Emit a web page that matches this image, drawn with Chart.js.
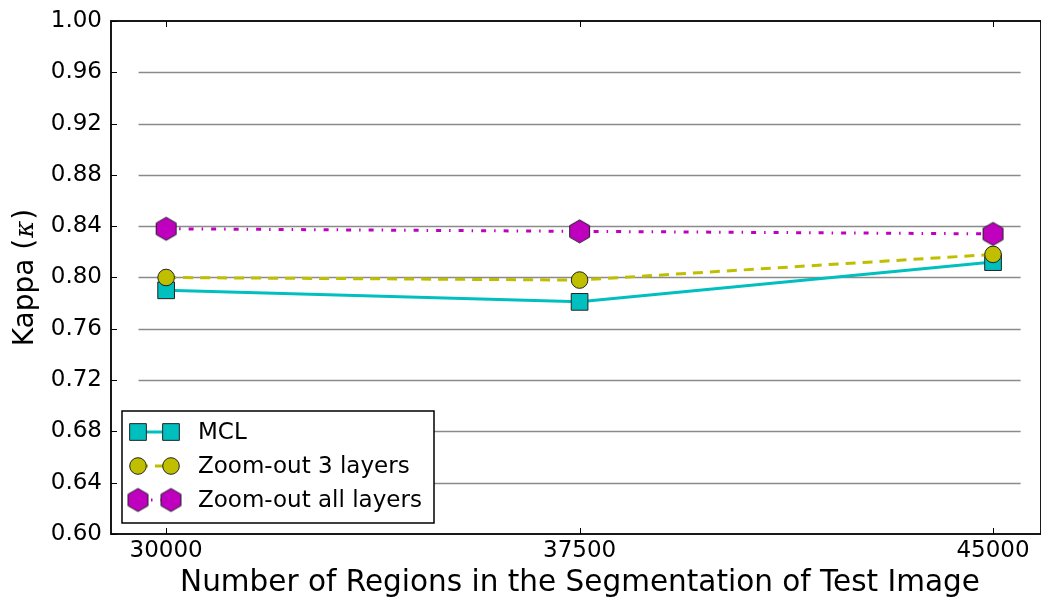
<!DOCTYPE html>
<html>
<head>
<meta charset="utf-8">
<script src="https://cdn.jsdelivr.net/npm/chart.js@4.4.1/dist/chart.umd.min.js"></script>
<style>
  html, body { margin: 0; padding: 0; background: #fff; overflow: hidden; }
  canvas { display: block; }
</style>
</head>
<body>
<canvas id="kappaChart" width="1041" height="603"></canvas>
<script>
const regions = [30000, 37500, 45000];
const mclValues = [0.790, 0.781, 0.812];
const zoom3Values = [0.800, 0.798, 0.818];
const zoomAllValues = [0.838, 0.836, 0.834];
const yTicks = [0.60, 0.64, 0.68, 0.72, 0.76, 0.80, 0.84, 0.88, 0.92, 0.96, 1.00];
const seriesNames = ["MCL", "Zoom-out 3 layers", "Zoom-out all layers"];

const colors = {
  cyan: "#00BFBF",
  olive: "#BFBF00",
  magenta: "#BF00BF",
  grid: "#8a8a8a",
};
const FONT = "'DejaVu Sans', sans-serif";

// hexagon marker drawn on a small canvas, used as pointStyle
function makeHexagon(r, fill) {
  const c = document.createElement("canvas");
  const s = Math.ceil(r * 2 + 4);
  c.width = s;
  c.height = s;
  const g = c.getContext("2d");
  g.beginPath();
  for (let k = 0; k < 6; k++) {
    const a = -Math.PI / 2 + (k * Math.PI) / 3;
    const px = s / 2 + r * Math.cos(a);
    const py = s / 2 + r * Math.sin(a);
    if (k === 0) g.moveTo(px, py);
    else g.lineTo(px, py);
  }
  g.closePath();
  g.fillStyle = fill;
  g.fill();
  g.lineWidth = 1;
  g.strokeStyle = "#222";
  g.stroke();
  return c;
}
const hexMarker = makeHexagon(11.5, colors.magenta);

const toXY = (vals) => regions.map((x, i) => ({ x: x, y: vals[i] }));

const frameAndGrid = {
  id: "frameAndGrid",
  beforeDatasetsDraw(chart) {
    const { ctx, scales } = chart;
    const x = scales.x, y = scales.y;
    ctx.save();
    ctx.strokeStyle = colors.grid;
    ctx.lineWidth = 1.6;
    yTicks.slice(1, -1).forEach((v) => {
      const py = Math.round(y.getPixelForValue(v)) + 0.5;
      ctx.beginPath();
      ctx.moveTo(x.getPixelForValue(29500), py);
      ctx.lineTo(x.getPixelForValue(45500), py);
      ctx.stroke();
    });
    ctx.restore();
  },
  afterDraw(chart) {
    const { ctx, chartArea, scales } = chart;
    const x = scales.x, y = scales.y;
    ctx.save();
    // inward ticks
    ctx.strokeStyle = "#000";
    ctx.lineWidth = 1;
    yTicks.forEach((v) => {
      const py = Math.round(y.getPixelForValue(v)) + 0.5;
      ctx.beginPath();
      ctx.moveTo(chartArea.left, py);
      ctx.lineTo(chartArea.left + 6, py);
      ctx.stroke();
    });
    regions.forEach((v) => {
      const px = Math.round(x.getPixelForValue(v)) + 0.5;
      ctx.beginPath();
      ctx.moveTo(px, chartArea.top);
      ctx.lineTo(px, chartArea.top + 6);
      ctx.moveTo(px, chartArea.bottom);
      ctx.lineTo(px, chartArea.bottom - 6);
      ctx.stroke();
    });
    // frame
    ctx.lineWidth = 1.8;
    ctx.strokeRect(chartArea.left, chartArea.top, chartArea.right - chartArea.left, chartArea.bottom - chartArea.top);

    // y title with italic kappa
    ctx.fillStyle = "#000";
    ctx.translate(33, (chartArea.top + chartArea.bottom) / 2);
    ctx.rotate(-Math.PI / 2);
    ctx.textBaseline = "alphabetic";
    const f1 = "28px " + FONT;
    const f2 = "italic 26px 'DejaVu Serif', serif";
    ctx.font = f1;
    const a = "Kappa (", c = ")";
    const wa = ctx.measureText(a).width, wc = ctx.measureText(c).width;
    ctx.font = f2;
    const wb = ctx.measureText("κ").width + 2;
    let sx = -(wa + wb + wc) / 2;
    ctx.font = f1;
    ctx.textAlign = "left";
    ctx.fillText(a, sx, 0);
    ctx.font = f2;
    ctx.fillText("κ", sx + wa + 1, 0);
    ctx.font = f1;
    ctx.fillText(c, sx + wa + wb, 0);
    ctx.restore();

    // x title
    ctx.save();
    ctx.fillStyle = "#000";
    ctx.font = "29.5px " + FONT;
    ctx.textAlign = "center";
    ctx.textBaseline = "middle";
    ctx.fillText("Number of Regions in the Segmentation of Test Image", 580, 583);
    ctx.restore();

    // legend
    ctx.save();
    const lx = 122, ly = 411, lw = 312, lh = 112;
    ctx.fillStyle = "#fff";
    ctx.fillRect(lx, ly, lw, lh);
    ctx.strokeStyle = "#000";
    ctx.lineWidth = 1.5;
    ctx.strokeRect(lx, ly, lw, lh);
    const ds = chart.data.datasets;
    const rowsY = [432, 466, 500];
    ds.forEach((d, i) => {
      const yy = rowsY[i];
      const m1 = 138, m2 = 171;
      ctx.strokeStyle = d.borderColor;
      ctx.lineWidth = d.borderWidth;
      ctx.setLineDash(d.borderDash || []);
      ctx.beginPath();
      ctx.moveTo(m1, yy);
      ctx.lineTo(m2, yy);
      ctx.stroke();
      ctx.setLineDash([]);
      [m1, m2].forEach((mx) => {
        if (typeof d.pointStyle !== "string") {
          Chart.helpers.drawPoint(ctx, { pointStyle: d.pointStyle, radius: d.pointRadius }, mx, yy);
          return;
        }
        ctx.fillStyle = d.backgroundColor;
        ctx.strokeStyle = "#222";
        ctx.lineWidth = 1;
        ctx.beginPath();
        if (d.pointStyle === "rect") {
          const h = d.pointRadius * Math.SQRT1_2;
          ctx.rect(mx - h, yy - h, 2 * h, 2 * h);
        } else {
          ctx.arc(mx, yy, d.pointRadius, 0, Math.PI * 2);
        }
        ctx.fill();
        ctx.stroke();
      });
      ctx.fillStyle = "#000";
      ctx.font = "23px " + FONT;
      ctx.textAlign = "left";
      ctx.textBaseline = "middle";
      ctx.fillText(seriesNames[i], 198, yy + 1);
    });
    ctx.restore();
  },
};

new Chart(document.getElementById("kappaChart"), {
  type: "line",
  data: {
    datasets: [
      {
        label: seriesNames[0],
        data: toXY(mclValues),
        borderColor: colors.cyan,
        backgroundColor: colors.cyan,
        borderWidth: 3,
        pointStyle: "rect",
        pointRadius: 11.8,
        pointBorderColor: "#222",
        pointBorderWidth: 1,
        pointBackgroundColor: colors.cyan,
        order: 3,
      },
      {
        label: seriesNames[1],
        data: toXY(zoom3Values),
        borderColor: colors.olive,
        backgroundColor: colors.olive,
        borderWidth: 3,
        borderDash: [10, 7],
        pointStyle: "circle",
        pointRadius: 8.3,
        pointBorderColor: "#222",
        pointBorderWidth: 1,
        pointBackgroundColor: colors.olive,
        order: 2,
      },
      {
        label: seriesNames[2],
        data: toXY(zoomAllValues),
        borderColor: colors.magenta,
        backgroundColor: colors.magenta,
        borderWidth: 3,
        borderDash: [5, 8, 1.5, 8],
        pointStyle: hexMarker,
        pointRadius: 11,
        pointBorderWidth: 0,
        order: 1,
      },
    ],
  },
  options: {
    responsive: false,
    maintainAspectRatio: false,
    animation: false,
    devicePixelRatio: 1,
    layout: { autoPadding: false, padding: { top: 21, right: 0, left: 0, bottom: 0 } },
    plugins: {
      legend: { display: false },
      tooltip: { enabled: false },
    },
    scales: {
      x: {
        type: "linear",
        min: 29000,
        max: 45870,
        afterBuildTicks: (s) => { s.ticks = regions.map((v) => ({ value: v })); },
        afterFit: (s) => { s.height = 69; s.paddingLeft = 0; s.paddingRight = 0; },
        grid: { display: false, drawTicks: false },
        border: { display: false },
        ticks: {
          color: "#000",
          font: { family: FONT, size: 23 },
          padding: 3,
          maxRotation: 0,
          callback: (v) => String(v),
        },
      },
      y: {
        min: 0.6,
        max: 1.0,
        afterBuildTicks: (s) => { s.ticks = yTicks.map((v) => ({ value: v })); },
        afterFit: (s) => { s.width = 111; s.paddingTop = 0; s.paddingBottom = 0; },
        grid: { display: false, drawTicks: false },
        border: { display: false },
        ticks: {
          color: "#000",
          font: { family: FONT, size: 23 },
          padding: 9,
          callback: (v) => Number(v).toFixed(2),
        },
      },
    },
  },
  plugins: [frameAndGrid],
});
</script>
</body>
</html>
